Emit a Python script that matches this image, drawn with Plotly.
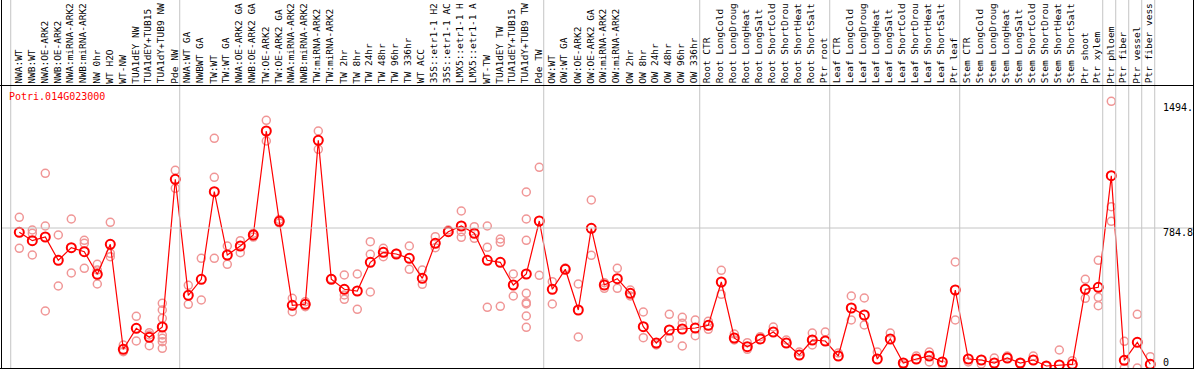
import plotly.graph_objects as go

categories = [
    "NWA:WT", "NWB:WT", "NWA:OE-ARK2", "NWB:OE-ARK2", "NWA:miRNA-ARK2", "NWB:miRNA-ARK2",
    "NW 0hr", "WT H2O", "WT-NW", "TUA1dEY NW", "TUA1dEY+TUB15", "TUA1dY+TUB9 NW", "Pde NW",
    "NWA:WT GA", "NWBWT GA", "TW:WT", "TW:WT GA", "NWA:OE-ARK2 GA", "NWB:OE-ARK2 GA",
    "TW:OE-ARK2", "TW:OE-ARK2 GA", "NWA:miRNA-ARK2", "NWB:miRNA-ARK2", "TW:miRNA-ARK2",
    "TW:miRNA-ARK2", "TW 2hr", "TW 8hr", "TW 24hr", "TW 48hr", "TW 96hr", "TW 336hr",
    "WT ACC", "35S::etr1-1 H2", "35S::etr1-1 AC", "LMX5::etr1-1 H", "LMX5::etr1-1 A",
    "WT-TW", "TUA1dEY TW", "TUA1dEY+TUB15", "TUA1dY+TUB9 TW", "Pde TW",
    "OW:WT", "OW:WT GA", "OW:OE-ARK2", "OW:OE-ARK2 GA", "OW:miRNA-ARK2", "OW:miRNA-ARK2",
    "OW 2hr", "OW 8hr", "OW 24hr", "OW 48hr", "OW 96hr", "OW 336hr",
    "Root CTR", "Root LongCold", "Root LongDroug", "Root LongHeat", "Root LongSalt",
    "Root ShortCold", "Root ShortDrou", "Root ShortHeat", "Root ShortSalt", "Ptr root",
    "Leaf CTR", "Leaf LongCold", "Leaf LongDroug", "Leaf LongHeat", "Leaf LongSalt",
    "Leaf ShortCold", "Leaf ShortDrou", "Leaf ShortHeat", "Leaf ShortSalt", "Ptr leaf",
    "Stem CTR", "Stem LongCold", "Stem LongDroug", "Stem LongHeat", "Stem LongSalt",
    "Stem ShortCold", "Stem ShortDrou", "Stem ShortHeat", "Stem ShortSalt",
    "Ptr shoot", "Ptr xylem", "Ptr phloem", "Ptr fiber", "Ptr vessel", "Ptr fiber vess",
]

mean_values = [
    760.7, 713.6, 734.3, 603.7, 674.4, 651.9, 525.3, 693.4, 104.8, 222.5, 172.1, 229.8, 1057.8,
    407.5, 497.2, 988.3, 633.4, 683.9, 745.6, 1328.6, 822.4, 351.5, 357.1, 1276.4, 497.2,
    441.2, 431.6, 592.5, 648.6, 639.0, 614.9, 502.8, 699.0, 764.1, 796.0, 755.1, 603.7,
    592.5, 465.3, 526.9, 824.0, 441.2, 553.3, 325.1, 783.1, 465.3, 500.6, 418.7, 231.5,
    140.1, 213.0, 218.6, 224.2, 239.4, 482.1, 168.2, 119.4, 162.6, 201.8, 140.1, 72.9,
    157.0, 151.4, 67.3, 336.3, 297.1, 50.5, 162.6, 28.0, 50.5, 67.3, 33.6, 437.2,
    50.5, 44.8, 28.0, 56.1, 28.0, 44.8, 11.2, 16.8, 20.7, 441.2, 452.4, 1078.0, 43.2,
    144.1, 20.7,
]

replicate_values = [
    [844.8, 671.0], [773.6, 755.1, 633.4], [1091.4, 796.0, 319.5], [745.6, 459.7],
    [835.3, 532.5], [715.8, 699.0, 558.9], [581.3, 549.4, 470.9], [816.8, 643.0, 623.9],
    [128.9, 91.4], [289.8, 151.4], [197.9, 185.0, 125.0],
    [362.7, 325.1, 278.6, 185.0, 166.5, 147.4, 110.4], [1108.2, 1007.3],
    [463.6, 357.1], [614.9, 381.2], [1287.6, 1069.0, 614.9], [683.9, 581.3], [713.6, 646.3],
    [755.1, 734.0], [1388.5, 1272.5], [832.4, 812.8], [390.7, 315.6], [371.7, 343.6],
    [1328.6, 1226.0], [500.6], [521.3, 409.2, 385.1], [526.9, 329.1], [708.0, 637.4, 426.0],
    [671.0, 623.9], [643.0], [683.9, 553.3], [549.4, 469.2], [736.0, 674.4], [773.6],
    [880.1, 764.1, 732.7], [792.1, 727.1], [796.0, 676.6, 340.3], [723.1, 704.6, 345.9],
    [526.9, 403.6], [986.6, 835.3, 715.8, 418.7, 366.1, 358.8, 291.5, 228.2],
    [1125.1, 519.7], [483.8, 358.8], [560.6], [470.9, 173.8], [941.8, 631.8], [478.2, 446.8],
    [558.9, 446.8], [437.2, 403.6], [313.9, 169.9], [128.9], [301.0, 166.5],
    [284.2, 250.6, 123.3], [269.1, 181.1], [261.8, 216.9], [547.7, 413.1], [190.6, 157.0],
    [141.8, 104.8], [175.5], [229.8], [157.0], [89.7], [196.2, 128.9], [201.8],
    [84.1], [403.6, 269.1], [392.4, 241.0], [89.7], [196.2], [16.8], [67.3], [89.7, 33.6],
    [16.8], [594.2, 269.1], [33.6], [22.4], [56.0], [67.3], [28.0], [67.3], [11.2], [100.9],
    [40.9], [497.2, 390.7], [603.7, 396.3, 349.2], [1494.8, 904.2, 822.4], [149.7, 0.0],
    [301.0, 0.0], [63.3],
]

gene_name = "Potri.014G023000"
y_tick_values = [1494.8, 784.8, 0]
y_tick_labels = ["1494.8", "784.8", "0"]
group_starts = [0, 13, 41, 53, 63, 73, 84, 85, 86, 87, 88]

W, H = 1194, 370
FONT = "DejaVu Sans Mono"
X0 = -19.3 / 13.0
X1 = (W - 19.3) / 13.0
Y_TOP_PX, Y_BOT_PX = 86, 368
Y_MAX = (Y_BOT_PX - Y_TOP_PX) * 5.6057


def px_x(p):
    return p / W


def px_y(p):
    return (H - p) / H


rep_x, rep_y = [], []
for i, vals in enumerate(replicate_values):
    for v in vals:
        rep_x.append(i)
        rep_y.append(v)

fig = go.Figure()
fig.add_trace(go.Scatter(
    x=rep_x, y=rep_y, mode="markers",
    marker=dict(symbol="circle-open", size=8, color="#F09696", line=dict(width=1.5)),
    hoverinfo="skip", showlegend=False,
))
fig.add_trace(go.Scatter(
    x=list(range(len(categories))), y=mean_values, mode="lines+markers",
    line=dict(color="#FF0000", width=1.2),
    marker=dict(symbol="circle-open", size=9, color="#FF0000", line=dict(width=2)),
    showlegend=False,
))

shapes = []
for g in group_starts:
    shapes.append(dict(type="line", xref="x", yref="paper", x0=g - 0.66, x1=g - 0.66,
                       y0=px_y(Y_BOT_PX), y1=1, line=dict(color="#C4C4C4", width=1)))
shapes.append(dict(type="line", xref="paper", yref="y", x0=px_x(2), x1=1,
                   y0=y_tick_values[1], y1=y_tick_values[1], line=dict(color="#C4C4C4", width=1)))
for yp in (Y_TOP_PX - 0.5, Y_BOT_PX + 0.5):
    shapes.append(dict(type="line", xref="paper", yref="paper", x0=0, x1=1,
                       y0=px_y(yp), y1=px_y(yp), line=dict(color="black", width=1)))
for xp in (1.5, W - 0.5):
    shapes.append(dict(type="line", xref="paper", yref="paper", x0=px_x(xp), x1=px_x(xp),
                       y0=px_y(Y_BOT_PX + 0.5), y1=1, line=dict(color="black", width=1)))

annotations = []
for i, name in enumerate(categories):
    annotations.append(dict(x=i - 0.12, xref="x", y=px_y(84.5), yref="paper", text=name,
                            textangle=-90, showarrow=False, xanchor="center", yanchor="bottom",
                            borderpad=0,
                            font=dict(family=FONT, size=9.5, color="black")))
annotations.append(dict(x=px_x(8), y=px_y(96.5), xref="paper", yref="paper", text=gene_name,
                        showarrow=False, xanchor="left", yanchor="middle", borderpad=0,
                        font=dict(family=FONT, size=10, color="#FF0000")))
for lab, yp in zip(y_tick_labels, (107, 232, 362)):
    annotations.append(dict(x=px_x(1162), y=px_y(yp), xref="paper", yref="paper", text=lab,
                            showarrow=False, xanchor="left", yanchor="middle", borderpad=0,
                            font=dict(family=FONT, size=10, color="black")))

fig.update_layout(
    width=W, height=H, margin=dict(l=0, r=0, t=0, b=0, pad=0),
    paper_bgcolor="white", plot_bgcolor="white",
    xaxis=dict(range=[X0, X1], domain=[0, 1], showgrid=False, zeroline=False,
               showticklabels=False, ticks="", fixedrange=True),
    yaxis=dict(range=[0, Y_MAX], domain=[px_y(Y_BOT_PX), px_y(Y_TOP_PX)], showgrid=False,
               zeroline=False, showticklabels=False, ticks="", fixedrange=True),
    shapes=shapes, annotations=annotations,
)

fig.write_html(
    "out.html",
    config={"displayModeBar": False},
    post_script="document.body.style.margin='0px';document.body.style.padding='0px';"
                "document.body.style.overflow='hidden';",
)
